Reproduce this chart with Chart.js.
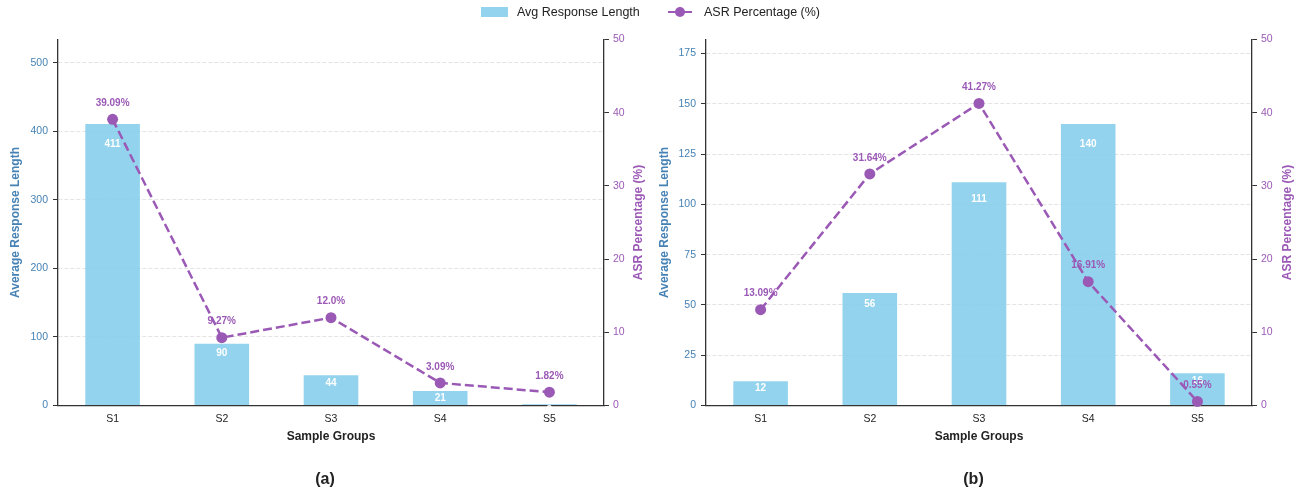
<!DOCTYPE html>
<html>
<head>
<meta charset="utf-8">
<script src="https://cdn.jsdelivr.net/npm/chart.js@4.4.1/dist/chart.umd.min.js"></script>
<style>
  body { margin: 0; background: #fff; font-family: "Liberation Sans", Arial, sans-serif; }
  #wrap { position: relative; width: 1297px; height: 493px; overflow: hidden; }
  canvas { position: absolute; top: 0; }
  #chartA { left: 0; }
  #chartB { left: 650px; }
  .lg { position: absolute; font-size: 12.5px; color: #222; line-height: 14px; top: 5px; }
  .box { position: absolute; left: 481px; top: 7px; width: 27px; height: 9.5px; background: rgba(135,206,235,0.9); }
  .ln { position: absolute; left: 668px; top: 10.5px; width: 24px; height: 2.5px; background: #9b59b6; }
  .dot { position: absolute; left: 675px; top: 7px; width: 10px; height: 10px; border-radius: 50%; background: #9b59b6; }
</style>
</head>
<body>
<div id="wrap">
  <canvas id="chartA" width="650" height="493"></canvas>
  <canvas id="chartB" width="647" height="493"></canvas>
  <div class="box"></div>
  <div class="lg" style="left:517px">Avg Response Length</div>
  <div class="ln"></div>
  <div class="dot"></div>
  <div class="lg" style="left:704px">ASR Percentage (%)</div>
</div>
<script>
// data
const groups = ["S1", "S2", "S3", "S4", "S5"];
const lenA = [411, 90, 44, 21, 2];
const asrA = [39.09, 9.27, 12.0, 3.09, 1.82];
const lenB = [12, 56, 111, 140, 16];
const asrB = [13.09, 31.64, 41.27, 16.91, 0.55];
const lenTicksA = [0, 100, 200, 300, 400, 500];
const lenTicksB = [0, 25, 50, 75, 100, 125, 150, 175];
const asrTicks = [0, 10, 20, 30, 40, 50];

const BLUE = "#4682b4";
const PURPLE = "#9b59b6";
const BAR = "rgba(135,206,235,0.9)";
const FONT = '"Liberation Sans", Arial, sans-serif';
Chart.defaults.font.family = FONT;

// python-like number printing, 12.0 stays "12.0"
function pct(v) {
  return (Number.isInteger(v) ? v.toFixed(1) : String(v)) + "%";
}

// value labels: white inside bars, purple above points
const valueLabels = {
  id: "valueLabels",
  afterDatasetsDraw(chart) {
    const ctx = chart.ctx;
    ctx.save();
    ctx.textAlign = "center";
    ctx.font = "bold 10px " + FONT;
    chart.data.datasets.forEach((ds, i) => {
      const meta = chart.getDatasetMeta(i);
      meta.data.forEach((el, j) => {
        const v = ds.data[j];
        if (ds.type === "bar") {
          const y = chart.scales.y.getPixelForValue(v * 0.95);
          ctx.fillStyle = "#fff";
          ctx.textBaseline = "top";
          ctx.fillText(String(v), el.x, y + 1);
        } else {
          ctx.fillStyle = PURPLE;
          ctx.textBaseline = "middle";
          ctx.fillText(pct(v), el.x, el.y - 16);
        }
      });
    });
    ctx.restore();
  }
};

// right axis title reads bottom-to-top like the left one
const asrTitle = {
  id: "asrTitle",
  afterDraw(chart, args, opts) {
    const s = chart.scales.y1;
    const area = chart.chartArea;
    const ctx = chart.ctx;
    ctx.save();
    ctx.translate(s.right - opts.pad - 7.2, (area.top + area.bottom) / 2);
    ctx.rotate(-Math.PI / 2);
    ctx.font = "bold 12px " + FONT;
    ctx.fillStyle = PURPLE;
    ctx.textAlign = "center";
    ctx.textBaseline = "middle";
    ctx.fillText("ASR Percentage (%)", 0, 0);
    ctx.restore();
  }
};

function makeChart(id, lens, asr, lenMax, lenTicks, leftW, rightW, tag, leftTitlePad, rightTitlePad) {
  return new Chart(document.getElementById(id), {
    data: {
      labels: groups,
      datasets: [
        {
          type: "bar",
          label: "Avg Response Length",
          data: lens,
          backgroundColor: BAR,
          barPercentage: 0.5,
          categoryPercentage: 1.0,
          yAxisID: "y",
          order: 2
        },
        {
          type: "line",
          label: "ASR Percentage (%)",
          data: asr,
          borderColor: PURPLE,
          backgroundColor: PURPLE,
          borderWidth: 2.5,
          borderDash: [9, 4],
          pointRadius: 5.5,
          pointBackgroundColor: PURPLE,
          pointBorderWidth: 0,
          yAxisID: "y1",
          clip: false,
          order: 1
        }
      ]
    },
    options: {
      responsive: false,
      animation: false,
      devicePixelRatio: 1,
      layout: { padding: { top: 39.5, left: 0, right: 0, bottom: 0 } },
      plugins: {
        legend: { display: false },
        tooltip: { enabled: false },
        asrTitle: { pad: rightTitlePad },
        title: {
          display: true,
          text: tag,
          position: "bottom",
          color: "#222",
          font: { size: 16, weight: "bold" },
          padding: { top: 22, bottom: 4.3 }
        }
      },
      scales: {
        x: {
          grid: { display: false, drawTicks: false },
          border: { display: true, color: "#333", width: 1.3 },
          ticks: { color: "#222", font: { size: 10.5 }, padding: 7 },
          title: { display: true, text: "Sample Groups", color: "#222", font: { size: 12, weight: "bold" }, padding: 4 },
          afterFit(s) { s.height = 42; }
        },
        y: {
          position: "left",
          min: 0,
          max: lenMax,
          afterBuildTicks(s) { s.ticks = lenTicks.map(v => ({ value: v })); },
          grid: {
            color: "#dddddd",
            lineWidth: 0.8,
            drawTicks: true,
            tickLength: 5,
            tickColor: "#333",
            tickBorderDash: [],
            tickWidth: 1
          },
          border: { display: true, color: "#333", width: 1.3, dash: [4, 2] },
          ticks: { color: BLUE, font: { size: 10.5 }, padding: 5 },
          title: { display: true, text: "Average Response Length", color: BLUE, font: { size: 12, weight: "bold" }, padding: { top: leftTitlePad, bottom: 0 } },
          afterFit(s) { s.width = leftW; }
        },
        y1: {
          position: "right",
          min: 0,
          max: 50,
          afterBuildTicks(s) { s.ticks = asrTicks.map(v => ({ value: v })); },
          grid: { drawOnChartArea: false, drawTicks: true, tickLength: 5, tickColor: "#333", tickWidth: 1 },
          border: { display: true, color: "#333", width: 1.3 },
          ticks: { color: PURPLE, font: { size: 10.5 }, padding: 4 },
          title: { display: false },
          afterFit(s) { s.width = rightW; }
        }
      }
    },
    plugins: [valueLabels, asrTitle]
  });
}

const chartA = makeChart("chartA", lenA, asrA, Math.max(...lenA) * 1.3, lenTicksA, 58, 46, "(a)", 8, 4);
const chartB = makeChart("chartB", lenB, asrB, Math.max(...lenB) * 1.3, lenTicksB, 56, 45, "(b)", 7, 2);
</script>
</body>
</html>
